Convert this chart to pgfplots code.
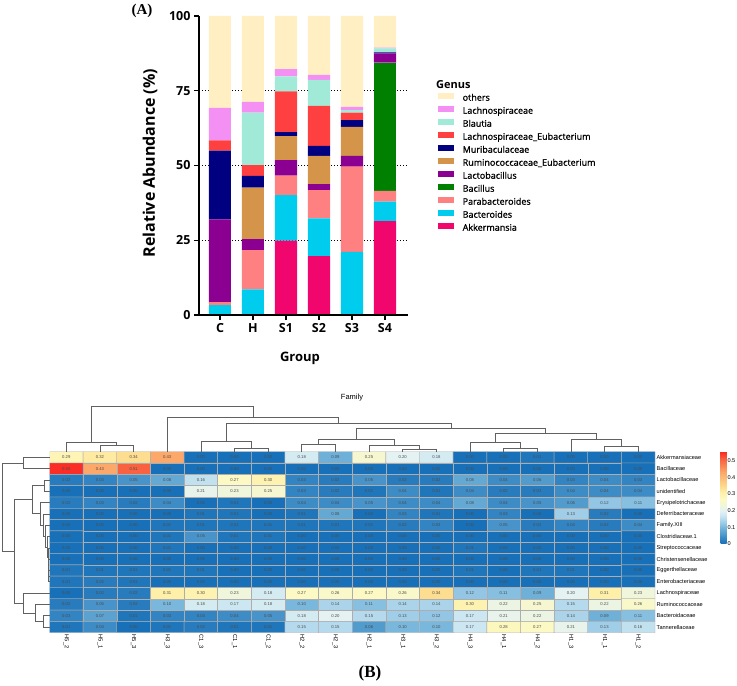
\documentclass[border=0pt]{standalone}
\usepackage{pgfplots}
\pgfplotsset{compat=1.18}
\usepackage{fontspec}
\setmainfont{Open Sans}
\newfontfamily\legfont{Open Sans}[FakeBold=1.2]
\newfontfamily\arial{Liberation Sans}
\newfontfamily\tnr{Liberation Serif}
\definecolor{cAkk}{RGB}{240,6,108}
\definecolor{cBact}{RGB}{0,205,238}
\definecolor{cPara}{RGB}{255,128,128}
\definecolor{cBac}{RGB}{0,128,0}
\definecolor{cLacto}{RGB}{139,0,144}
\definecolor{cRum}{RGB}{212,148,74}
\definecolor{cMuri}{RGB}{0,0,128}
\definecolor{cLEub}{RGB}{255,64,64}
\definecolor{cBlau}{RGB}{162,234,216}
\definecolor{cLach}{RGB}{244,144,244}
\definecolor{cOth}{RGB}{255,239,194}
\pgfplotsset{dend/.style={black!62, line width=0.7pt, mark=none, forget plot}}
\begin{document}
\begin{tikzpicture}
% ---------------- (A) stacked bars
\begin{axis}[
  at={(199pt,670pt)}, anchor=north west, scale only axis, width=209pt, height=299pt,
  set layers, axis on top,
  ybar stacked, bar width=0.667,
  xmin=-0.636, xmax=5.697, ymin=0, ymax=100,
  axis x line*=bottom, axis y line*=left, axis line style={line width=1.6pt},
  xtick={0,...,5}, xticklabels={C,H,S1,S2,S3,S4},
  ytick={0,25,50,75,100},
  tick style={line width=1.4pt, black}, major tick length=5pt, tick align=outside,
  ticklabel style={font=\bfseries\fontsize{12.5}{14}\selectfont},
  /pgf/number format/assume math mode=true,
  ylabel={Relative Abundance (\%)}, xlabel={Group},
  ylabel style={font=\bfseries\fontsize{16}{18}\selectfont, at={(axis description cs:-0.2344,0.508)}, anchor=center},
  xlabel style={font=\bfseries\fontsize{13}{15}\selectfont, at={(axis description cs:0.483,-0.1438)}, anchor=center},
  extra y ticks={25,50,75}, extra y tick labels={},
  extra y tick style={grid=major},
  major grid style={black, line width=1.1pt, dash pattern=on 1.1pt off 1.9pt, /pgfplots/on layer=axis background},
  legend style={at={(axis description cs:1.1435,0.7458)}, anchor=north west, draw=none, fill=none,
    font=\legfont\fontsize{9}{11}\selectfont, row sep=0pt, inner sep=0pt,
    nodes={inner sep=0pt, text height=8.5pt, text depth=4.5pt},
    /tikz/every odd column/.append style={column sep=8.5pt}},
  legend cell align=left, reverse legend,
  legend image code/.code={\fill[#1] (0pt,0pt) rectangle (16pt,6pt);},
]
\addplot[fill=cAkk, draw=none] coordinates {(0,0) (1,0) (2,24.9) (3,19.7) (4,0) (5,31.4)};
\addplot[fill=cBact, draw=none] coordinates {(0,3.3) (1,8.6) (2,15.2) (3,12.6) (4,21.1) (5,6.5)};
\addplot[fill=cPara, draw=none] coordinates {(0,1.0) (1,13.1) (2,6.5) (3,9.5) (4,28.5) (5,3.6)};
\addplot[fill=cBac, draw=none] coordinates {(0,0) (1,0) (2,0) (3,0) (4,0) (5,42.9)};
\addplot[fill=cLacto, draw=none] coordinates {(0,27.7) (1,3.7) (2,5.2) (3,2.0) (4,3.6) (5,3.1)};
\addplot[fill=cRum, draw=none] coordinates {(0,0) (1,17.2) (2,8.0) (3,9.4) (4,9.7) (5,0)};
\addplot[fill=cMuri, draw=none] coordinates {(0,23.0) (1,3.9) (2,1.4) (3,3.4) (4,2.3) (5,0.3)};
\addplot[fill=cLEub, draw=none] coordinates {(0,3.4) (1,3.6) (2,13.6) (3,13.3) (4,2.5) (5,0)};
\addplot[fill=cBlau, draw=none] coordinates {(0,0) (1,17.6) (2,5.0) (3,8.7) (4,0.8) (5,1.4)};
\addplot[fill=cLach, draw=none] coordinates {(0,10.9) (1,3.6) (2,2.4) (3,1.7) (4,1.1) (5,0.2)};
\addplot[fill=cOth, draw=none] coordinates {(0,30.7) (1,28.7) (2,17.8) (3,19.7) (4,30.4) (5,10.6)};
\legend{Akkermansia,Bacteroides,Parabacteroides,Bacillus,Lactobacillus,Ruminococcaceae\_Eubacterium,Muribaculaceae,Lachnospiraceae\_Eubacterium,Blautia,Lachnospiraceae,others}
\end{axis}
\node[anchor=west, font=\bfseries\fontsize{11}{13}\selectfont, inner sep=0pt] at (436pt,601pt) {Genus};
\node[font=\tnr\bfseries\fontsize{15}{17}\selectfont, inner sep=0pt] at (142pt,675pt) {(A)};
\node[font=\tnr\bfseries\fontsize{17}{19}\selectfont, inner sep=0pt] at (370pt,13pt) {(B)};
\node[font=\arial\fontsize{7.5}{9}\selectfont, inner sep=0pt] at (352pt,288pt) {Family};
% ---------------- (B) heatmap
\begin{axis}[
  at={(49.5pt,234.3pt)}, anchor=north west, scale only axis, width=605.5pt, height=181pt,
  xmin=-0.5, xmax=17.5, ymin=-0.5, ymax=15.5, y dir=reverse, enlargelimits=false,
  /pgf/number format/assume math mode=true,
  axis line style={draw=none}, major tick length=0pt,
  xtick={0,...,17},
  xticklabels={H5\_2,H5\_1,H5\_3,H3\_3,C1\_3,C1\_1,C1\_2,H2\_2,H2\_3,H2\_1,H3\_1,H3\_2,H4\_3,H4\_1,H4\_2,H1\_3,H1\_1,H1\_2},
  xticklabel style={rotate=-90, anchor=west, font=\arial\fontsize{5.8}{6}\selectfont, inner sep=1.8pt},
  ytick={0,...,15},
  yticklabels={Akkermansiaceae,Bacillaceae,Lactobacillaceae,unidentified,Erysipelotrichaceae,Deferribacteraceae,Family.XIII,Clostridiaceae.1,Streptococcaceae,Christensenellaceae,Eggerthellaceae,Enterobacteriaceae,Lachnospiraceae,Ruminococcaceae,Bacteroidaceae,Tannerellaceae},
  yticklabel pos=right,
  yticklabel style={anchor=west, font=\arial\fontsize{5.6}{6}\selectfont, inner sep=1.5pt},
  colormap={hm}{rgb255(0cm)=(24,113,184) rgb255(2cm)=(40,124,190) rgb255(5cm)=(72,148,202)
    rgb255(9cm)=(110,176,216) rgb255(13cm)=(160,206,232) rgb255(17cm)=(205,231,242)
    rgb255(20cm)=(228,242,242) rgb255(23cm)=(240,246,220) rgb255(27cm)=(252,249,196)
    rgb255(31cm)=(254,240,168) rgb255(34cm)=(253,222,144) rgb255(43cm)=(252,168,106)
    rgb255(51cm)=(248,98,64) rgb255(55.5cm)=(250,40,35)},
  point meta min=0, point meta max=0.555,
  colorbar,
  colorbar style={at={(parent axis.north east)}, anchor=north west, xshift=57pt,
    width=6pt, height=92pt, axis line style={draw=none}, major tick length=0pt,
    ytick={0,0.1,0.2,0.3,0.4,0.5}, yticklabels={0,0.1,0.2,0.3,0.4,0.5},
    yticklabel style={font=\arial\fontsize{5.6}{7}\selectfont, inner sep=0.8pt, anchor=west}},
]
\addplot[matrix plot*, mesh/cols=18, point meta=explicit, shader=faceted, faceted color=black!32, line width=0.4pt,
  nodes near coords={\pgfmathprintnumber[fixed,fixed zerofill,precision=2]{\pgfplotspointmeta}},
  nodes near coords style={font=\arial\fontsize{4.2}{5}\selectfont, text=black!70, anchor=center, inner sep=0pt}]
coordinates {
(0,0)[0.29] (1,0)[0.32] (2,0)[0.34] (3,0)[0.43] (4,0)[0] (5,0)[0] (6,0)[0] (7,0)[0.18] (8,0)[0.09] (9,0)[0.25] (10,0)[0.20] (11,0)[0.18] (12,0)[0] (13,0)[0] (14,0)[0.01] (15,0)[0] (16,0)[0] (17,0)[0]
(0,1)[0.55] (1,1)[0.43] (2,1)[0.51] (3,1)[0] (4,1)[0] (5,1)[0] (6,1)[0] (7,1)[0] (8,1)[0] (9,1)[0] (10,1)[0] (11,1)[0] (12,1)[0] (13,1)[0] (14,1)[0] (15,1)[0] (16,1)[0] (17,1)[0]
(0,2)[0.02] (1,2)[0.03] (2,2)[0.05] (3,2)[0.08] (4,2)[0.16] (5,2)[0.27] (6,2)[0.30] (7,2)[0.03] (8,2)[0.02] (9,2)[0.05] (10,2)[0.02] (11,2)[0.02] (12,2)[0.08] (13,2)[0.04] (14,2)[0.06] (15,2)[0.03] (16,2)[0.04] (17,2)[0.03]
(0,3)[0] (1,3)[0] (2,3)[0] (3,3)[0] (4,3)[0.21] (5,3)[0.23] (6,3)[0.25] (7,3)[0.03] (8,3)[0.02] (9,3)[0.01] (10,3)[0.04] (11,3)[0.01] (12,3)[0.04] (13,3)[0.02] (14,3)[0.02] (15,3)[0.04] (16,3)[0.04] (17,3)[0.04]
(0,4)[0.02] (1,4)[0.03] (2,4)[0.02] (3,4)[0.04] (4,4)[0] (5,4)[0.01] (6,4)[0] (7,4)[0.04] (8,4)[0.04] (9,4)[0.05] (10,4)[0.04] (11,4)[0.04] (12,4)[0.08] (13,4)[0.04] (14,4)[0.05] (15,4)[0.06] (16,4)[0.12] (17,4)[0.11]
(0,5)[0] (1,5)[0] (2,5)[0] (3,5)[0] (4,5)[0.01] (5,5)[0.01] (6,5)[0] (7,5)[0.01] (8,5)[0.08] (9,5)[0] (10,5)[0.03] (11,5)[0.01] (12,5)[0] (13,5)[0.03] (14,5)[0] (15,5)[0.13] (16,5)[0.02] (17,5)[0]
(0,6)[0] (1,6)[0] (2,6)[0] (3,6)[0.01] (4,6)[0.01] (5,6)[0.01] (6,6)[0.01] (7,6)[0.01] (8,6)[0.01] (9,6)[0.01] (10,6)[0.02] (11,6)[0.03] (12,6)[0] (13,6)[0.05] (14,6)[0.02] (15,6)[0.03] (16,6)[0.02] (17,6)[0.04]
(0,7)[0] (1,7)[0] (2,7)[0] (3,7)[0.01] (4,7)[0.05] (5,7)[0.01] (6,7)[0.01] (7,7)[0] (8,7)[0] (9,7)[0] (10,7)[0] (11,7)[0] (12,7)[0] (13,7)[0] (14,7)[0] (15,7)[0] (16,7)[0] (17,7)[0]
(0,8)[0] (1,8)[0] (2,8)[0] (3,8)[0.01] (4,8)[0] (5,8)[0] (6,8)[0] (7,8)[0] (8,8)[0] (9,8)[0] (10,8)[0] (11,8)[0] (12,8)[0.01] (13,8)[0] (14,8)[0] (15,8)[0] (16,8)[0] (17,8)[0]
(0,9)[0] (1,9)[0] (2,9)[0] (3,9)[0] (4,9)[0] (5,9)[0] (6,9)[0] (7,9)[0] (8,9)[0] (9,9)[0] (10,9)[0] (11,9)[0] (12,9)[0] (13,9)[0] (14,9)[0] (15,9)[0] (16,9)[0] (17,9)[0]
(0,10)[0.01] (1,10)[0.01] (2,10)[0.01] (3,10)[0.01] (4,10)[0.01] (5,10)[0] (6,10)[0] (7,10)[0] (8,10)[0] (9,10)[0] (10,10)[0] (11,10)[0] (12,10)[0.01] (13,10)[0] (14,10)[0.01] (15,10)[0.01] (16,10)[0] (17,10)[0]
(0,11)[0.01] (1,11)[0.02] (2,11)[0.01] (3,11)[0] (4,11)[0] (5,11)[0] (6,11)[0] (7,11)[0] (8,11)[0] (9,11)[0] (10,11)[0] (11,11)[0] (12,11)[0] (13,11)[0] (14,11)[0] (15,11)[0] (16,11)[0] (17,11)[0]
(0,12)[0] (1,12)[0.02] (2,12)[0.02] (3,12)[0.31] (4,12)[0.30] (5,12)[0.23] (6,12)[0.18] (7,12)[0.27] (8,12)[0.26] (9,12)[0.27] (10,12)[0.26] (11,12)[0.34] (12,12)[0.12] (13,12)[0.11] (14,12)[0.09] (15,12)[0.20] (16,12)[0.31] (17,12)[0.23]
(0,13)[0.02] (1,13)[0.05] (2,13)[0.02] (3,13)[0.10] (4,13)[0.18] (5,13)[0.17] (6,13)[0.18] (7,13)[0.10] (8,13)[0.14] (9,13)[0.11] (10,13)[0.14] (11,13)[0.14] (12,13)[0.30] (13,13)[0.22] (14,13)[0.25] (15,13)[0.15] (16,13)[0.22] (17,13)[0.26]
(0,14)[0.03] (1,14)[0.07] (2,14)[0.01] (3,14)[0.03] (4,14)[0.03] (5,14)[0.04] (6,14)[0.05] (7,14)[0.18] (8,14)[0.20] (9,14)[0.15] (10,14)[0.13] (11,14)[0.12] (12,14)[0.17] (13,14)[0.21] (14,14)[0.22] (15,14)[0.14] (16,14)[0.09] (17,14)[0.11]
(0,15)[0.01] (1,15)[0.04] (2,15)[0] (3,15)[0.01] (4,15)[0.02] (5,15)[0.01] (6,15)[0.01] (7,15)[0.15] (8,15)[0.15] (9,15)[0.06] (10,15)[0.10] (11,15)[0.10] (12,15)[0.17] (13,15)[0.28] (14,15)[0.27] (15,15)[0.21] (16,15)[0.13] (17,15)[0.16]
};
\end{axis}
% ---------------- column dendrogram
\begin{axis}[
  at={(49.5pt,234.3pt)}, anchor=south west, scale only axis, width=605.5pt, height=46pt,
  xmin=-0.5, xmax=17.5, ymin=0, ymax=46, hide axis, clip=false,
]
\addplot[dend] coordinates {(1,0) (1,6.7) (2,6.7) (2,0)};
\addplot[dend] coordinates {(0,0) (0,9.7) (1.5,9.7) (1.5,6.7)};
\addplot[dend] coordinates {(5,0) (5,3.7) (6,3.7) (6,0)};
\addplot[dend] coordinates {(4,0) (4,10.7) (5.5,10.7) (5.5,3.7)};
\addplot[dend] coordinates {(7,0) (7,7.7) (8,7.7) (8,0)};
\addplot[dend] coordinates {(10,0) (10,2.7) (11,2.7) (11,0)};
\addplot[dend] coordinates {(9,0) (9,6.7) (10.5,6.7) (10.5,2.7)};
\addplot[dend] coordinates {(7.5,7.7) (7.5,12.7) (9.75,12.7) (9.75,6.7)};
\addplot[dend] coordinates {(13,0) (13,3.7) (14,3.7) (14,0)};
\addplot[dend] coordinates {(12,0) (12,9.7) (13.5,9.7) (13.5,3.7)};
\addplot[dend] coordinates {(16,0) (16,5.7) (17,5.7) (17,0)};
\addplot[dend] coordinates {(15,0) (15,12.7) (16.5,12.7) (16.5,5.7)};
\addplot[dend] coordinates {(12.75,9.7) (12.75,18.7) (15.75,18.7) (15.75,12.7)};
\addplot[dend] coordinates {(8.625,12.7) (8.625,23.7) (14.25,23.7) (14.25,18.7)};
\addplot[dend] coordinates {(4.75,10.7) (4.75,28.7) (11.4375,28.7) (11.4375,23.7)};
\addplot[dend] coordinates {(3,0) (3,34.7) (8.09375,34.7) (8.09375,28.7)};
\addplot[dend] coordinates {(0.75,9.7) (0.75,45.7) (5.546875,45.7) (5.546875,34.7)};
\end{axis}
% ---------------- row dendrogram
\begin{axis}[
  at={(0pt,234.3pt)}, anchor=north west, scale only axis, width=49.5pt, height=181pt,
  xmin=0, xmax=49.5, x dir=reverse, ymin=-0.5, ymax=15.5, y dir=reverse, hide axis, clip=false,
]
\addplot[dend] coordinates {(0,0) (26.5,0) (26.5,1) (0,1)};
\addplot[dend] coordinates {(0,10) (0.7,10) (0.7,11) (0,11)};
\addplot[dend] coordinates {(0,9) (1.0,9) (1.0,10.5) (0.7,10.5)};
\addplot[dend] coordinates {(0,8) (1.3,8) (1.3,9.75) (1.0,9.75)};
\addplot[dend] coordinates {(0,7) (2.5,7) (2.5,8.875) (1.3,8.875)};
\addplot[dend] coordinates {(0,6) (4.0,6) (4.0,7.9375) (2.5,7.9375)};
\addplot[dend] coordinates {(0,5) (6.0,5) (6.0,6.96875) (4.0,6.96875)};
\addplot[dend] coordinates {(0,4) (9.0,4) (9.0,5.984375) (6.0,5.984375)};
\addplot[dend] coordinates {(0,2) (5.2,2) (5.2,3) (0,3)};
\addplot[dend] coordinates {(5.2,2.5) (17.2,2.5) (17.2,4.9921875) (9.0,4.9921875)};
\addplot[dend] coordinates {(0,14) (6.2,14) (6.2,15) (0,15)};
\addplot[dend] coordinates {(0,13) (13.8,13) (13.8,14.5) (6.2,14.5)};
\addplot[dend] coordinates {(0,12) (26.5,12) (26.5,13.75) (13.8,13.75)};
\addplot[dend] coordinates {(17.2,3.74609) (35.5,3.74609) (35.5,12.875) (26.5,12.875)};
\addplot[dend] coordinates {(26.5,0.5) (46.8,0.5) (46.8,8.3105) (35.5,8.3105)};
\end{axis}
\pgfresetboundingbox
\path[use as bounding box] (0,0) rectangle (737pt,686pt);
\end{tikzpicture}
\end{document}
